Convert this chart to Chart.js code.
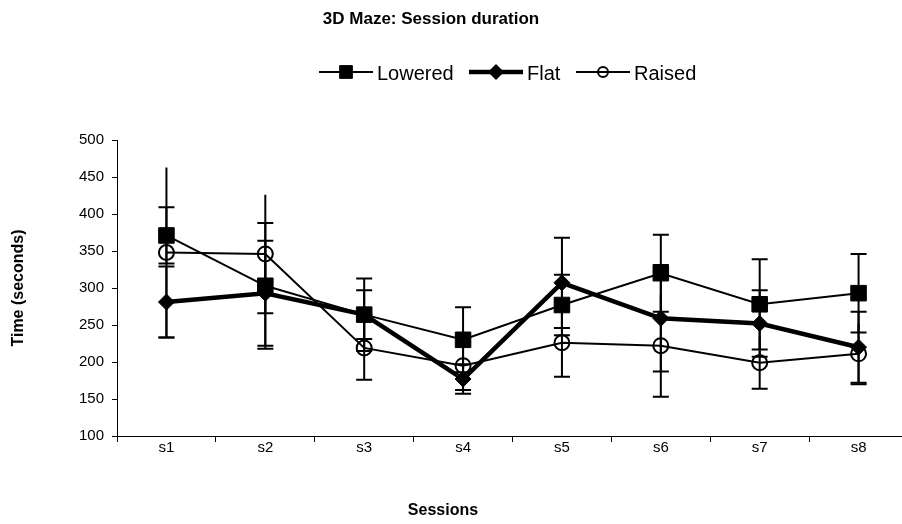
<!DOCTYPE html>
<html>
<head>
<meta charset="utf-8">
<script src="https://cdn.jsdelivr.net/npm/chart.js@4.4.1/dist/chart.umd.min.js"></script>
<style>
  html, body { margin: 0; padding: 0; background: #fff; overflow: hidden; }
</style>
</head>
<body>
<canvas id="chartMaze" width="920" height="524"></canvas>
<script>
// data
const sessions = ['s1', 's2', 's3', 's4', 's5', 's6', 's7', 's8'];
const yTicks = [100, 150, 200, 250, 300, 350, 400, 450, 500];

const lowered = [371, 303, 264, 230, 277, 320, 278, 293];
const loweredErr = [38, 85, 49, 44, 41, 52, 61, 53];
const flat = [281, 293, 264, 177, 307, 259, 252, 220];
const flatErr = [48, 71, 33, 20, 61, 72, 45, 48];
const raised = [348, 346, 219, 195, 226, 222, 199, 211];
const raisedErr = [115, 80, 43, 33, 46, 69, 35, 41];

const FONT = "'Liberation Sans', Arial, sans-serif";
const BLACK = '#000';

const errorsByLabel = { Lowered: loweredErr, Flat: flatErr, Raised: raisedErr };

// vertical error bars, drawn under the lines
// (the Raised bars have no cap on the upper end in the original)
const errorBars = {
    id: 'errorBars',
    beforeDatasetsDraw(chart) {
        const { ctx, scales: { x, y } } = chart;
        ctx.save();
        ctx.strokeStyle = BLACK;
        ctx.lineWidth = 2;
        chart.data.datasets.forEach(ds => {
            const err = errorsByLabel[ds.label];
            ds.data.forEach((v, i) => {
                const px = x.getPixelForValue(i);
                const top = y.getPixelForValue(v + err[i]);
                const bot = y.getPixelForValue(v - err[i]);
                ctx.beginPath();
                ctx.moveTo(px, top); ctx.lineTo(px, bot);
                if (ds.topCap) {
                    ctx.moveTo(px - 8, top); ctx.lineTo(px + 8, top);
                }
                ctx.moveTo(px - 8, bot); ctx.lineTo(px + 8, bot);
                ctx.stroke();
            });
        });
        ctx.restore();
    }
};

// title, legend (line + marker + label) and x axis title
const headerAndLegend = {
    id: 'headerAndLegend',
    afterDraw(chart) {
        const { ctx } = chart;
        ctx.save();
        ctx.fillStyle = BLACK;
        ctx.textBaseline = 'middle';
        ctx.textAlign = 'center';
        ctx.font = 'bold 17px ' + FONT;
        ctx.fillText('3D Maze: Session duration', 431, 19);
        ctx.font = 'bold 16px ' + FONT;
        ctx.fillText('Sessions', 443, 511);

        ctx.font = '20px ' + FONT;
        ctx.textAlign = 'left';
        const itemX = [319, 469, 576];
        const ly = 72;
        chart.data.datasets.forEach((ds, i) => {
            const lx = itemX[i];
            ctx.strokeStyle = BLACK;
            ctx.lineWidth = ds.borderWidth;
            ctx.beginPath();
            ctx.moveTo(lx, ly);
            ctx.lineTo(lx + 54, ly);
            ctx.stroke();
            ctx.lineWidth = ds.legendMarkerBorder;
            ctx.fillStyle = ds.pointBackgroundColor;
            Chart.helpers.drawPoint(ctx, {
                pointStyle: ds.pointStyle,
                radius: ds.legendMarkerRadius,
                rotation: 0,
                borderWidth: ds.legendMarkerBorder
            }, lx + 27, ly);
            ctx.fillStyle = BLACK;
            ctx.fillText(ds.label, lx + 58, ly + 2);
        });
        ctx.restore();
    }
};

new Chart(document.getElementById('chartMaze'), {
    type: 'line',
    data: {
        labels: sessions,
        datasets: [
            {
                label: 'Lowered',
                data: lowered,
                borderColor: BLACK,
                borderWidth: 2,
                pointStyle: 'rect',
                pointRadius: 11,
                pointBorderWidth: 1,
                pointBackgroundColor: BLACK,
                pointBorderColor: BLACK,
                topCap: true,
                legendMarkerRadius: 9,
                legendMarkerBorder: 1
            },
            {
                label: 'Flat',
                data: flat,
                borderColor: BLACK,
                borderWidth: 4.5,
                pointStyle: 'rectRot',
                pointRadius: 8,
                pointBorderWidth: 1,
                pointBackgroundColor: BLACK,
                pointBorderColor: BLACK,
                topCap: true,
                legendMarkerRadius: 7.5,
                legendMarkerBorder: 1
            },
            {
                label: 'Raised',
                data: raised,
                borderColor: BLACK,
                borderWidth: 2,
                pointStyle: 'circle',
                pointRadius: 7.5,
                pointBorderWidth: 2,
                pointBackgroundColor: 'rgba(255,255,255,0)',
                pointBorderColor: BLACK,
                topCap: false,
                legendMarkerRadius: 5,
                legendMarkerBorder: 2
            }
        ]
    },
    options: {
        responsive: false,
        animation: false,
        devicePixelRatio: 1,
        layout: { padding: { top: 140, right: 3, left: 0, bottom: 0 } },
        plugins: {
            legend: { display: false },
            title: { display: false },
            tooltip: { enabled: false }
        },
        elements: { line: { tension: 0 } },
        scales: {
            x: {
                type: 'category',
                offset: true,
                grid: { offset: true, drawOnChartArea: false, tickLength: 6, color: BLACK, lineWidth: 1 },
                border: { color: BLACK, width: 1 },
                ticks: { color: BLACK, font: { family: FONT, size: 15, lineHeight: 1 }, padding: -2 },
                afterFit: s => { s.height = 88; }
            },
            y: {
                min: 100,
                max: 500,
                afterBuildTicks: s => { s.ticks = yTicks.map(v => ({ value: v })); },
                grid: { drawOnChartArea: false, tickLength: 5, color: BLACK, lineWidth: 1 },
                border: { color: BLACK, width: 1 },
                ticks: { color: BLACK, font: { family: FONT, size: 15 }, padding: 8 },
                title: {
                    display: true,
                    text: 'Time (seconds)',
                    color: BLACK,
                    font: { family: FONT, size: 16, weight: 'bold' },
                    padding: { top: 9, bottom: 0 }
                },
                afterFit: s => { s.width = 117; }
            }
        }
    },
    plugins: [errorBars, headerAndLegend]
});
</script>
</body>
</html>
